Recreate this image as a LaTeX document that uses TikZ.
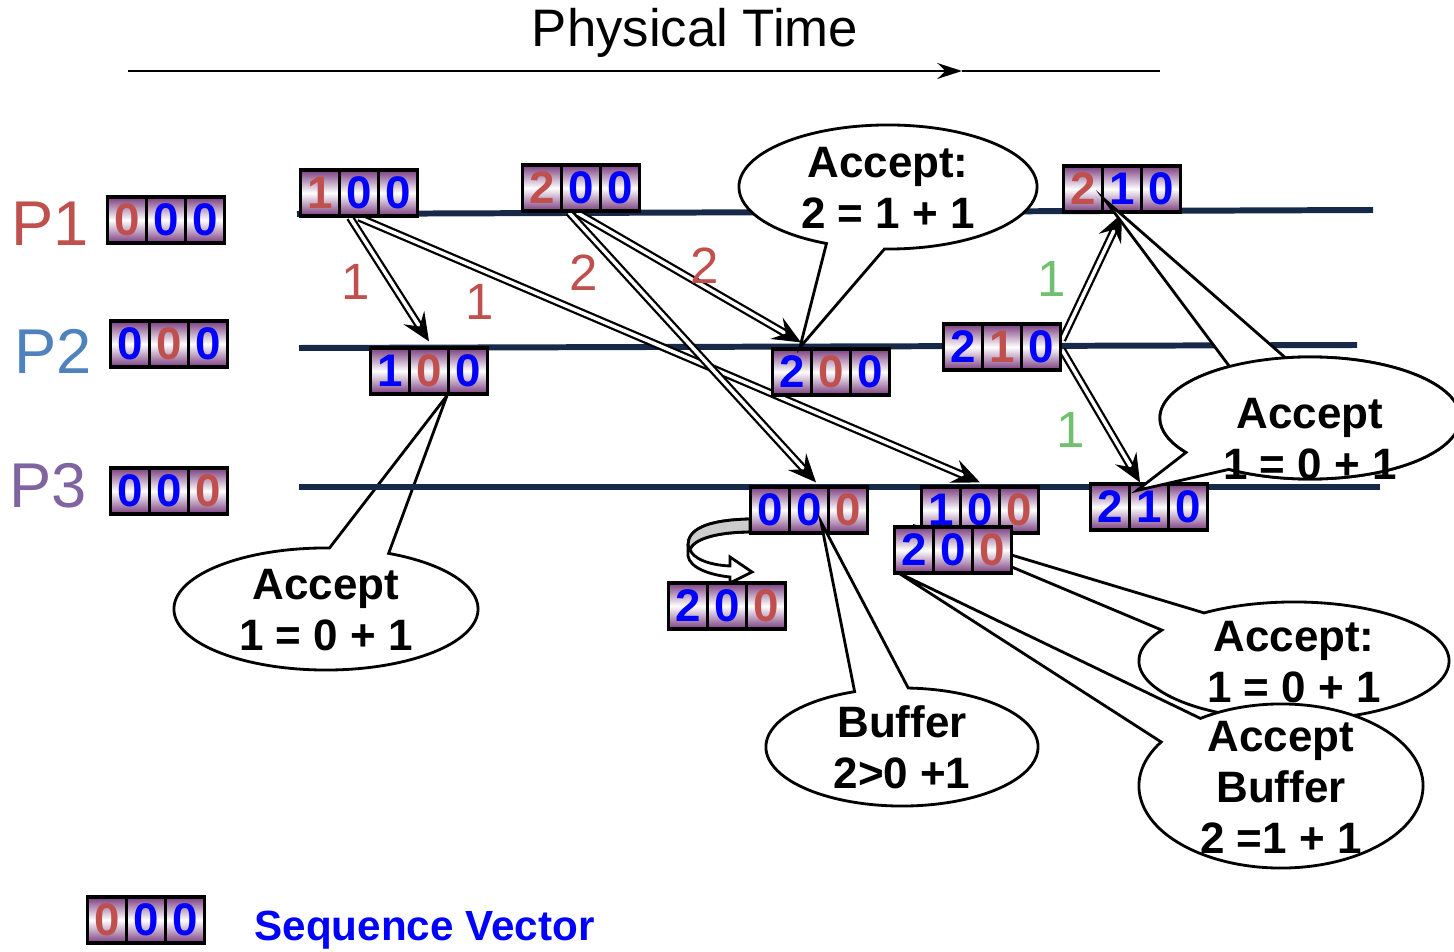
\documentclass[tikz,border=0pt]{standalone}
\usepackage{fontspec}
\setmainfont{Liberation Sans}
\usetikzlibrary{arrows.meta,shapes.callouts}
\definecolor{pred}{RGB}{192,80,77}
\definecolor{pblue}{RGB}{79,129,189}
\definecolor{ppurple}{RGB}{128,100,162}
\definecolor{vblue}{RGB}{0,0,255}
\definecolor{lgreen}{RGB}{112,192,112}
\definecolor{navy}{RGB}{23,41,72}
\definecolor{vshade}{RGB}{122,60,126}
\newcommand{\digr}[1]{\makebox[3.9mm]{\textcolor{pred}{#1}}}
\newcommand{\digb}[1]{\makebox[3.9mm]{\textcolor{vblue}{#1}}}
\newcommand{\bubtext}[2][0pt]{\smash{\raisebox{\dimexpr-4.7pt+#1\relax}{\begin{tabular}{@{}c@{}}#2\end{tabular}}}}
\pgfdeclarelayer{back}
\pgfsetlayers{back,main}

\begin{document}
\begin{tikzpicture}[x=0.01cm, y=-0.01cm,
        vec/.style={draw, line width=0.9pt, minimum width=11.7mm, minimum height=4.6mm, inner sep=0pt,
            top color=vshade, bottom color=vshade, middle color=white,
            font=\fontsize{13}{13}\selectfont\bfseries,
            path picture={
                \draw[line width=0.8pt] ([xshift=3.9mm]path picture bounding box.north west) -- ([xshift=3.9mm]path picture bounding box.south west);
                \draw[line width=0.8pt] ([xshift=7.8mm]path picture bounding box.north west) -- ([xshift=7.8mm]path picture bounding box.south west);}},
        proc/.style={line width=1.7pt, draw=navy},
        msg/.style={double, double distance=1pt, line width=0.65pt, -{Stealth[length=8pt, width=7pt, inset=3pt]}},
        num/.style={font=\fontsize{14.5}{14.5}\selectfont},
        plabel/.style={font=\fontsize{18}{18}\selectfont},
        bubble/.style={ellipse callout, draw, fill=white, line width=0.8pt, callout pointer arc=23, inner sep=0pt,
            font=\fontsize{12.5}{14.5}\selectfont\bfseries}]
                \useasboundingbox (0,0) rectangle (1454,952);

                \node (TT) at (695,33) {\fontsize{15}{18}\selectfont Physical Time};
                \coordinate (T0) at (128,71);
                \coordinate (TM) at (962,71);
                \coordinate (T1) at (1160,71);
                \draw[line width=0.7pt, -{Stealth[length=7pt, width=4.5pt]}] (T0) -- (TM);
                \draw[line width=0.7pt] (TM) -- (T1);

                \node[plabel, text=pred] (P1) at (50,224) {P1};
                \node[plabel, text=pblue] (P2) at (53,351) {P2};
                \node[plabel, text=ppurple] (P3) at (48,486) {P3};

                \node[vec] (V1) at (166,220) {\digr0\digb0\digb0};
                \node[vec] (V2) at (169,344) {\digb0\digr0\digb0};
                \node[vec] (V3) at (169,491) {\digb0\digb0\digr0};

                \node[vec] (S1) at (359,193) {\digr1\digb0\digb0};
                \node[vec] (S2) at (581,188) {\digr2\digb0\digb0};
                \node[vec] (S3) at (1122,189) {\digr2\digb1\digb0};
                \node[vec] (R1) at (429,371) {\digb1\digr0\digb0};
                \node[vec] (R2) at (831,372) {\digb2\digr0\digb0};
                \node[vec] (R3) at (1002,347) {\digb2\digr1\digb0};
                \node[vec] (Q0) at (809,510) {\digb0\digb0\digr0};
                \node[vec] (Q1) at (980,510) {\digb1\digb0\digr0};
                \node[vec] (Q2) at (953,550) {\digb2\digb0\digr0};
                \node[vec] (Q3) at (1149,507) {\digb2\digb1\digb0};
                \node[vec] (B0) at (727,606) {\digb2\digb0\digr0};

                \node[vec] (K0) at (146,920) {\digr0\digb0\digb0};
                \node[anchor=west, text=vblue, font=\fontsize{12}{12}\selectfont\bfseries] (KT) at (242,930) {Sequence Vector};

                \begin{pgfonlayer}{back}
                \node[bubble, minimum width=3.04cm, minimum height=1.22cm,
                    callout absolute pointer={([xshift=1.8mm]R1.south)}] (C2) at (326,609) {\bubtext{Accept\\1 = 0 + 1}};
                \node[bubble, minimum width=3.1cm, minimum height=1.18cm,
                    callout absolute pointer={([xshift=2mm]Q2.north west)}] (C4) at (1294,661) {\bubtext{Accept:\\1 = 0 + 1}};
                \node[bubble, minimum width=2.84cm, minimum height=1.64cm,
                    callout absolute pointer={([xshift=0.5mm,yshift=0.2mm]Q2.south west)}] (C5) at (1281,786) {\bubtext{Accept\\Buffer\\2 =1 + 1}};

                \coordinate (L1a) at (297,214);
                \coordinate (L1b) at (1373,210);
                \coordinate (L2a) at (299,348);
                \coordinate (L2b) at (1357,345);
                \coordinate (L3a) at (299,487);
                \coordinate (L3b) at (1380,487);
                \draw[proc] (L1a) -- (L1b);
                \draw[proc] (L2a) -- (L2b);
                \draw[proc] (L3a) -- (L3b);

                \draw[msg] ([xshift=-0.9mm]S1.south) -- ([yshift=0.5mm]R1.north);
                \draw[msg] (S1.south) -- ([yshift=0.3mm]Q1.north);
                \draw[msg] ([xshift=-1.2mm]S2.south) -- ([xshift=0.7mm,yshift=0.3mm]Q0.north);
                \draw[msg] ([xshift=-0.4mm]S2.south) -- ([xshift=3mm,yshift=0.5mm]R2.north west);
                \draw[msg] ([yshift=0.7mm]R3.east) -- (S3.south);
                \draw[msg] ([yshift=-0.3mm]R3.east) -- ([xshift=-0.9mm]Q3.north);

                \draw[line width=0.8pt, fill=white] (750,519) .. controls (705,520) and (688,530) .. (688,545) -- (688,556)
                    .. controls (690,568) and (710,575) .. (730,577) -- (730,583) -- (752,572) -- (730,557) -- (730,566)
                    .. controls (708,565) and (692,558) .. (690,549) .. controls (695,538) and (720,532) .. (750,532) -- cycle;
                \draw[line width=0.8pt, fill=black!20] (750,519) .. controls (705,520) and (688,530) .. (688,545) -- (690,549)
                    .. controls (695,538) and (720,532) .. (750,532) -- cycle;
                \end{pgfonlayer}

                \node[num, text=pred] (N1) at (356,282) {1};
                \node[num, text=pred] (N2) at (480,302) {1};
                \node[num, text=pred] (N3) at (584,273) {2};
                \node[num, text=pred] (N4) at (705,266) {2};
                \node[num, text=lgreen] (N5) at (1052,279) {1};
                \node[num, text=lgreen] (N6) at (1071,430) {1};

                \node[bubble, minimum width=2.98cm, minimum height=1.24cm,
                    callout absolute pointer={([xshift=2.9mm]R2.north west)}] (C1) at (888,187) {\bubtext{Accept:\\2 = 1 + 1}};
                \node[bubble, minimum width=2.72cm, minimum height=1.18cm,
                    callout absolute pointer={([xshift=1.2mm,yshift=-1.2mm]Q0.center)}] (C3) at (902,747) {\bubtext{Buffer\\2>0 +1}};
                \node[bubble, minimum width=3cm, minimum height=1.22cm,
                    callout absolute pointer={([xshift=-1.7mm,yshift=-1.1mm]S3.center)}] (C6) at (1310,418) {};
                \node[bubble, minimum width=3cm, minimum height=1.22cm,
                    callout absolute pointer={([xshift=-1.2mm,yshift=-0.8mm]Q3.north)}] (C7) at (1310,418) {\bubtext[-5.7pt]{Accept\\1 = 0 + 1}};
            \end{tikzpicture}
\end{document}
